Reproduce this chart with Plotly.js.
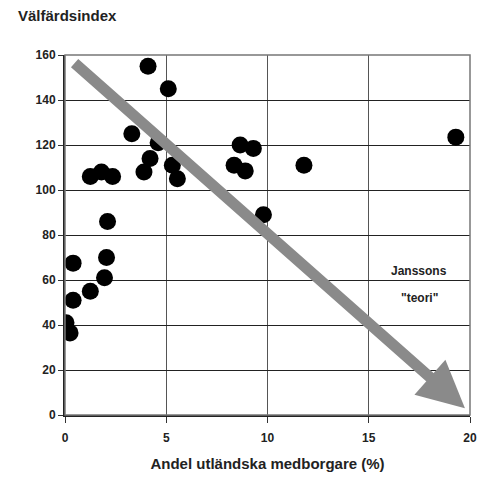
<!DOCTYPE html>
<html><head><meta charset="utf-8">
<script src="https://cdn.plot.ly/plotly-3.0.1.min.js"></script>
<style>body{margin:0;background:#fff}#c{width:494px;height:489px}</style>
</head><body><div id="c"></div>
<script>
const andel = [4.1, 5.1, 3.3, 4.6, 4.2, 3.9, 5.3, 5.55, 1.25, 1.8, 2.35, 2.1, 0.4, 2.05, 1.95, 1.25, 0.4, 0.05, 0.25, 8.65, 9.3, 8.35, 8.9, 9.8, 11.8, 19.3];
const index = [155, 145, 125, 121, 114, 108, 111, 105, 106, 108, 106, 86, 67.5, 70, 61, 55, 51, 41, 36.5, 120, 118.5, 111, 108.5, 89, 111, 123.5];
const xTicks = [0, 5, 10, 15, 20];
const yTicks = [0, 20, 40, 60, 80, 100, 120, 140, 160];
const arrowStart = [0.4, 157];
const arrowEnd = [19.75, 3];
const labelPos = [17.5, 64, 52];
const labels = ['Janssons', '"teori"'];

const tickFont = {family: 'Liberation Sans, Arial', size: 12, color: '#222', weight: 'bold'};
Plotly.newPlot('c', [{
  x: andel, y: index, type: 'scatter', mode: 'markers',
  marker: {color: '#000', size: 17}, hoverinfo: 'none'
}], {
  width: 494, height: 489,
  margin: {l: 65, r: 24, t: 55, b: 74},
  paper_bgcolor: '#fff', plot_bgcolor: '#fff',
  showlegend: false,
  xaxis: {range: [0, 20], tickvals: xTicks, ticks: 'outside', ticklen: 6, tickcolor: '#333',
    ticklabelstandoff: 5,
    showgrid: true, gridcolor: '#555', gridwidth: 1, zeroline: false,
    showline: true, linecolor: '#222', linewidth: 2, mirror: false,
    tickfont: tickFont,
    title: {text: 'Andel utländska medborgare (%)', font: {family: 'Liberation Sans, Arial', size: 15, color: '#222', weight: 'bold'}, standoff: 14}},
  yaxis: {range: [0, 160], tickvals: yTicks, ticks: 'outside', ticklen: 5, tickcolor: '#333',
    showgrid: true, gridcolor: '#222', gridwidth: 1, zeroline: false,
    showline: true, linecolor: '#222', linewidth: 2,
    tickfont: tickFont},
  shapes: [{type: 'rect', xref: 'paper', yref: 'paper', x0: 0, x1: 1, y0: 0, y1: 1,
    line: {color: '#777', width: 1.5}}],
  annotations: [
    {xref: 'paper', yref: 'paper', x: -0.12, y: 1.08, xanchor: 'left', yanchor: 'bottom', showarrow: false,
      text: 'Välfärdsindex', font: {family: 'Liberation Sans, Arial', size: 15, color: '#222', weight: 'bold'}},
    {x: arrowEnd[0], y: arrowEnd[1], ax: arrowStart[0], ay: arrowStart[1], axref: 'x', ayref: 'y', xref: 'x', yref: 'y',
      showarrow: true, arrowhead: 2, arrowsize: 0.85, arrowwidth: 11, arrowcolor: '#8a8a8a', text: ''},
    {x: labelPos[0], y: labelPos[1], showarrow: false, text: labels[0], font: {family: 'Liberation Sans, Arial', size: 12, color: '#222', weight: 'bold'}},
    {x: labelPos[0], y: labelPos[2], showarrow: false, text: labels[1], font: {family: 'Liberation Sans, Arial', size: 12, color: '#222', weight: 'bold'}}
  ]
}, {displayModeBar: false, staticPlot: true});
</script></body></html>
